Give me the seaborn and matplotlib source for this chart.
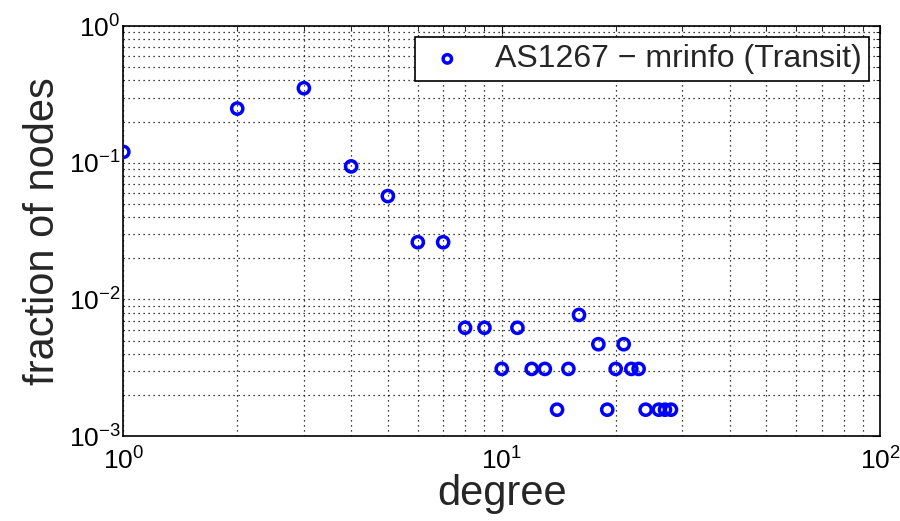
import numpy as np
import pandas as pd
import matplotlib
matplotlib.use("Agg")
import matplotlib.pyplot as plt
import seaborn as sns

# degree distribution (log-log)
degree = [1, 2, 3, 4, 5, 6, 7, 8, 9, 10, 11, 12, 13, 14, 15, 16,
          18, 19, 20, 21, 22, 23, 24, 26, 27, 28]
fraction = [0.120, 0.249, 0.351, 0.094, 0.057, 0.0262, 0.0262, 0.0062,
            0.0062, 0.0031, 0.0062, 0.0031, 0.0031, 0.00156, 0.0031, 0.0077,
            0.0047, 0.00156, 0.0031, 0.0047, 0.0031, 0.0031, 0.00156,
            0.00156, 0.00156, 0.00156]
series_label = "AS1267 \u2212 mrinfo (Transit)"

df = pd.DataFrame({"degree": degree, "fraction": fraction})

sns.set_style("white")
plt.rcParams["font.family"] = ["Liberation Sans", "DejaVu Sans"]
plt.rcParams["mathtext.default"] = "regular"

fig = plt.figure(figsize=(9, 5.21), dpi=100)
ax = fig.add_axes([0.137, 0.163, 0.841, 0.787])

sns.scatterplot(data=df, x="degree", y="fraction", ax=ax, marker="o", s=65,
                facecolors="none", edgecolor="#0000ff", linewidth=2.5,
                label=series_label, zorder=3)

ax.set_xscale("log")
ax.set_yscale("log")
ax.set_xlim(1, 100)
ax.set_ylim(1e-3, 1)

# MATLAB style dotted grid (major + minor)
ax.grid(True, which="major", color="black", linestyle=(0, (1, 3)), linewidth=0.9)
ax.grid(True, which="minor", color="black", linestyle=(0, (1, 3)), linewidth=0.9)

ax.tick_params(which="both", direction="in", top=True, right=True,
               labelsize=19, colors="black")
ax.tick_params(axis="x", which="major", pad=8)
ax.tick_params(axis="y", which="major", pad=2)
ax.tick_params(which="major", length=6)
ax.tick_params(which="minor", length=3)
for s in ax.spines.values():
    s.set_color("black")
    s.set_linewidth(1.2)

ax.set_xlabel("degree", fontsize=30, labelpad=0)
ax.set_ylabel("fraction of nodes", fontsize=30, labelpad=4)

leg = ax.legend(loc="upper right", fontsize=23, frameon=True, fancybox=False,
                edgecolor="black", framealpha=1, handletextpad=0.7,
                handlelength=1.6, borderpad=0.22, borderaxespad=0.35,
                markerscale=0.75)
leg.get_frame().set_linewidth(1.2)

fig.savefig("out.png", dpi=100)
